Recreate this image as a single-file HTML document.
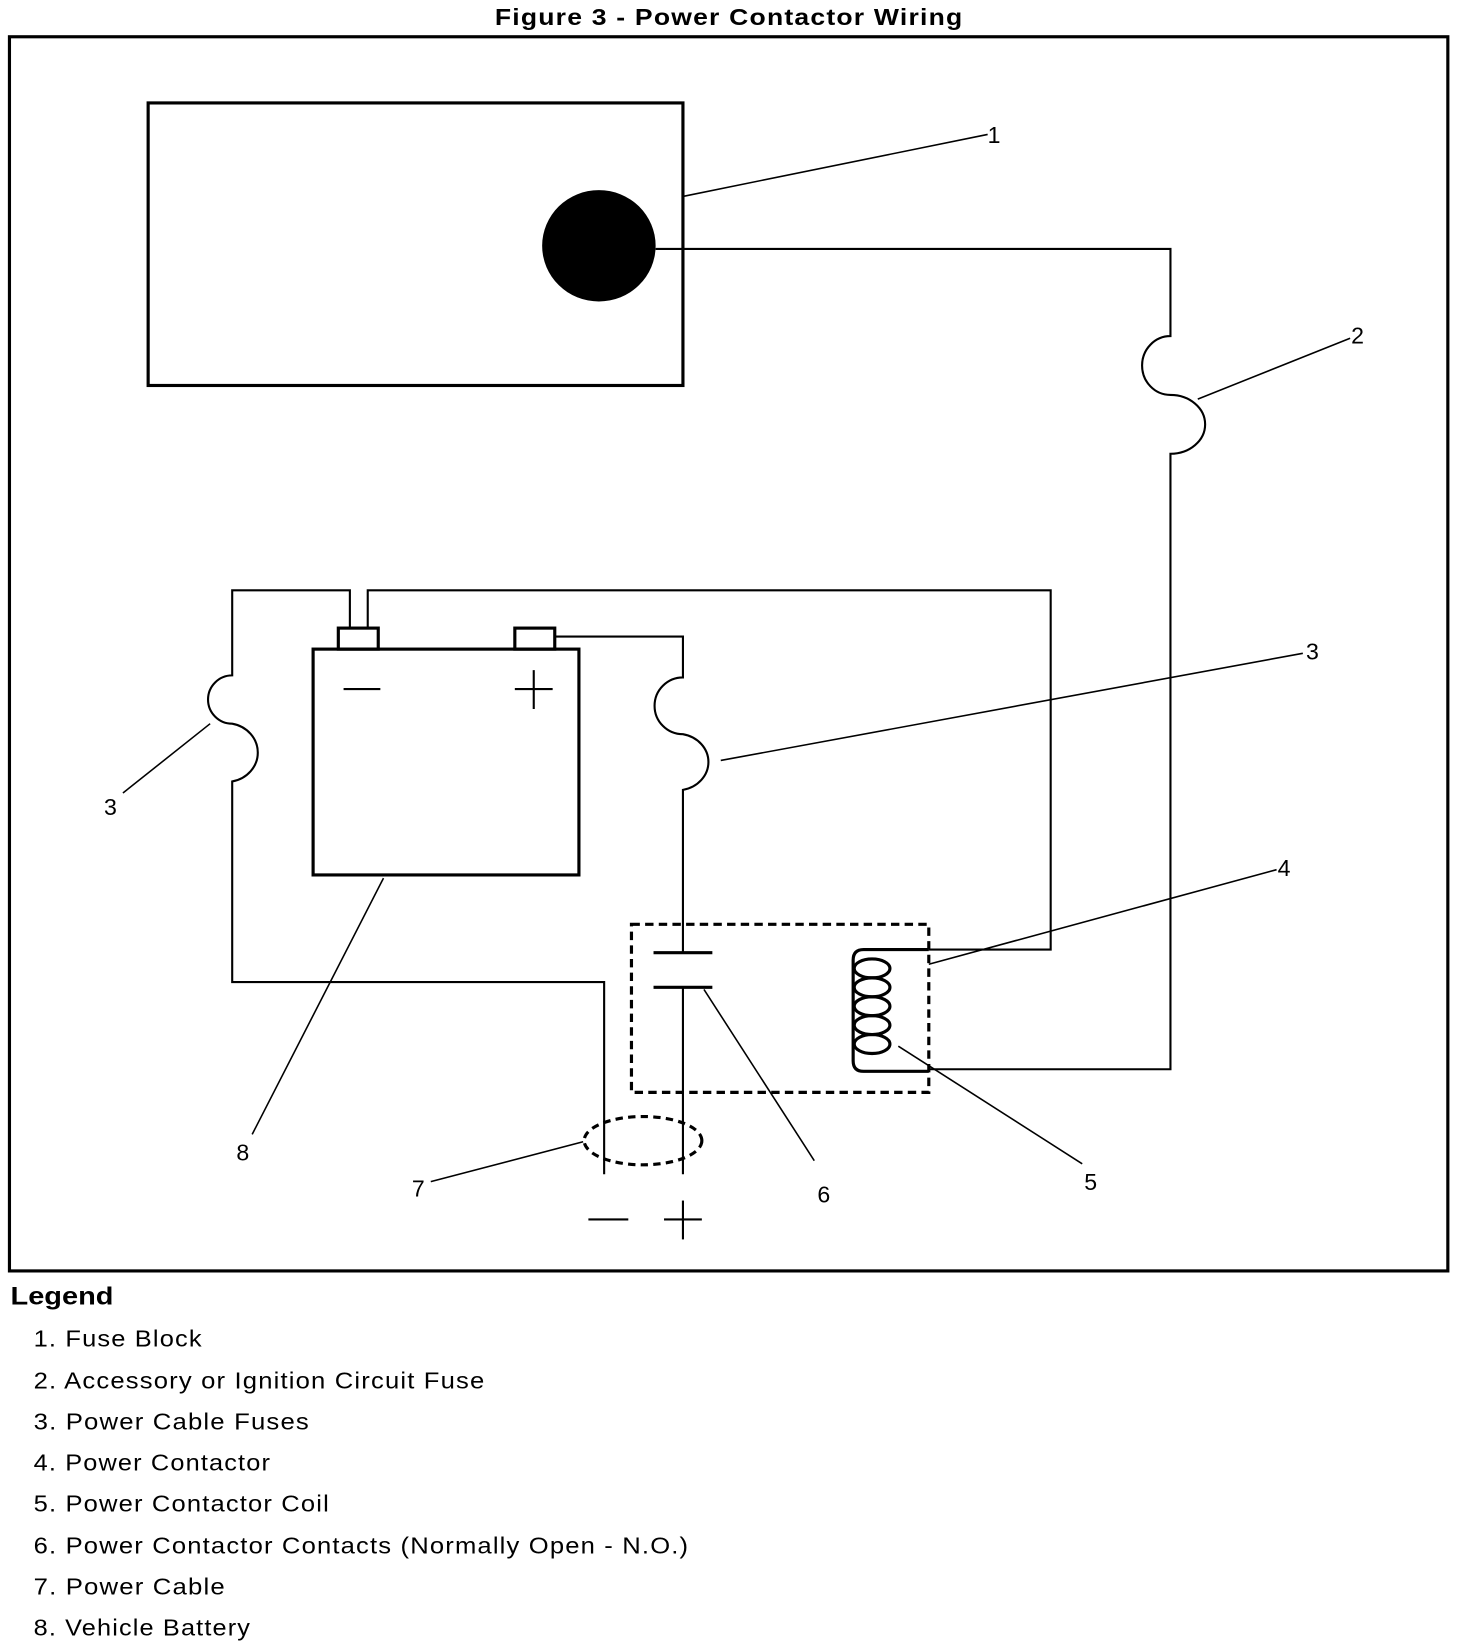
<!DOCTYPE html>
<html><head><meta charset="utf-8"><style>
html,body{margin:0;padding:0;background:#fff;}
svg{display:block;}
text{font-family:"Liberation Sans",sans-serif;fill:#000;}
</style></head><body>
<svg width="1472" height="1648" viewBox="0 0 1401 1569" preserveAspectRatio="none" xmlns="http://www.w3.org/2000/svg">
<text x="471" y="24" font-size="22" font-weight="bold" letter-spacing="1" textLength="446" lengthAdjust="spacingAndGlyphs">Figure 3 - Power Contactor Wiring</text>
<rect x="9" y="35" width="1369" height="1175" fill="none" stroke="#000" stroke-width="3"/>
<ellipse cx="570" cy="234" rx="54" ry="53" fill="#000"/>
<g fill="none" stroke="#000" stroke-width="2">
<rect x="141" y="98" width="509" height="269" stroke-width="3"/>
<line x1="650" y1="187" x2="940" y2="128" stroke-width="1.5"/>
<path d="M624 237 H1114 V320 A27 28 0 0 0 1114 376 A33 28 0 0 1 1114 432 V1018 H884"/>
<line x1="1140" y1="380" x2="1285" y2="322" stroke-width="1.5"/>
<rect x="298" y="618" width="253" height="215" stroke-width="3"/>
<rect x="322" y="598" width="38" height="20" stroke-width="3"/>
<rect x="490" y="598" width="38" height="20" stroke-width="3"/>
<path d="M333 598 V562 H221 V643 A23 23 0 0 0 221 689 A30 28 0 0 1 221 744 V935 H575 V1118"/>
<path d="M350 598 V562 H1000 V904 H884"/>
<path d="M528 606 H650 V645 A27 27 0 0 0 650 699 A30 27 0 0 1 650 752 V907"/>
<path d="M650 940 V1118"/>
<line x1="622" y1="907" x2="678" y2="907" stroke-width="3"/>
<line x1="622" y1="940" x2="678" y2="940" stroke-width="3"/>
<line x1="327" y1="656" x2="362" y2="656"/>
<line x1="490" y1="656" x2="526" y2="656"/>
<line x1="508" y1="638" x2="508" y2="675"/>
<rect x="601" y="880" width="283" height="160" stroke-width="3" stroke-dasharray="8 5"/>
<path d="M884 904 H822 Q812 904 812 914 V1010 Q812 1020 822 1020 H884" stroke-width="3"/>
<ellipse cx="830" cy="922" rx="17" ry="9" stroke-width="3"/>
<ellipse cx="830" cy="940" rx="17" ry="9" stroke-width="3"/>
<ellipse cx="830" cy="958" rx="17" ry="9" stroke-width="3"/>
<ellipse cx="830" cy="976" rx="17" ry="9" stroke-width="3"/>
<ellipse cx="830" cy="994" rx="17" ry="9" stroke-width="3"/>
<ellipse cx="612" cy="1086" rx="56" ry="23" stroke-width="3" stroke-dasharray="7 5"/>
<line x1="560" y1="1161" x2="598" y2="1161"/>
<line x1="632" y1="1161" x2="668" y2="1161"/>
<line x1="650" y1="1143" x2="650" y2="1180"/>
<g stroke-width="1.5">
<line x1="686" y1="724" x2="1240" y2="622"/>
<line x1="200" y1="689" x2="117" y2="755"/>
<line x1="884" y1="918" x2="1215" y2="828"/>
<line x1="855" y1="996" x2="1030" y2="1108"/>
<line x1="670" y1="942" x2="775" y2="1105"/>
<line x1="555" y1="1087" x2="410" y2="1125"/>
<line x1="365" y1="836" x2="240" y2="1080"/>
</g>
</g>
<g font-size="22">
<text x="940" y="136">1</text>
<text x="1286" y="327">2</text>
<text x="1243" y="628">3</text>
<text x="99" y="776">3</text>
<text x="1216" y="834">4</text>
<text x="1032" y="1133">5</text>
<text x="778" y="1145">6</text>
<text x="392" y="1139">7</text>
<text x="225" y="1105">8</text>
</g>
<text x="10" y="1242" font-size="24" font-weight="bold" textLength="98" lengthAdjust="spacingAndGlyphs">Legend</text>
<g font-size="22" letter-spacing="1">
<text x="32" y="1282" textLength="161" lengthAdjust="spacingAndGlyphs">1. Fuse Block</text>
<text x="32" y="1322" textLength="430" lengthAdjust="spacingAndGlyphs">2. Accessory or Ignition Circuit Fuse</text>
<text x="32" y="1361" textLength="263" lengthAdjust="spacingAndGlyphs">3. Power Cable Fuses</text>
<text x="32" y="1400" textLength="226" lengthAdjust="spacingAndGlyphs">4. Power Contactor</text>
<text x="32" y="1439" textLength="282" lengthAdjust="spacingAndGlyphs">5. Power Contactor Coil</text>
<text x="32" y="1479" textLength="624" lengthAdjust="spacingAndGlyphs">6. Power Contactor Contacts (Normally Open - N.O.)</text>
<text x="32" y="1518" textLength="183" lengthAdjust="spacingAndGlyphs">7. Power Cable</text>
<text x="32" y="1557" textLength="207" lengthAdjust="spacingAndGlyphs">8. Vehicle Battery</text>
</g>
</svg>
</body></html>
